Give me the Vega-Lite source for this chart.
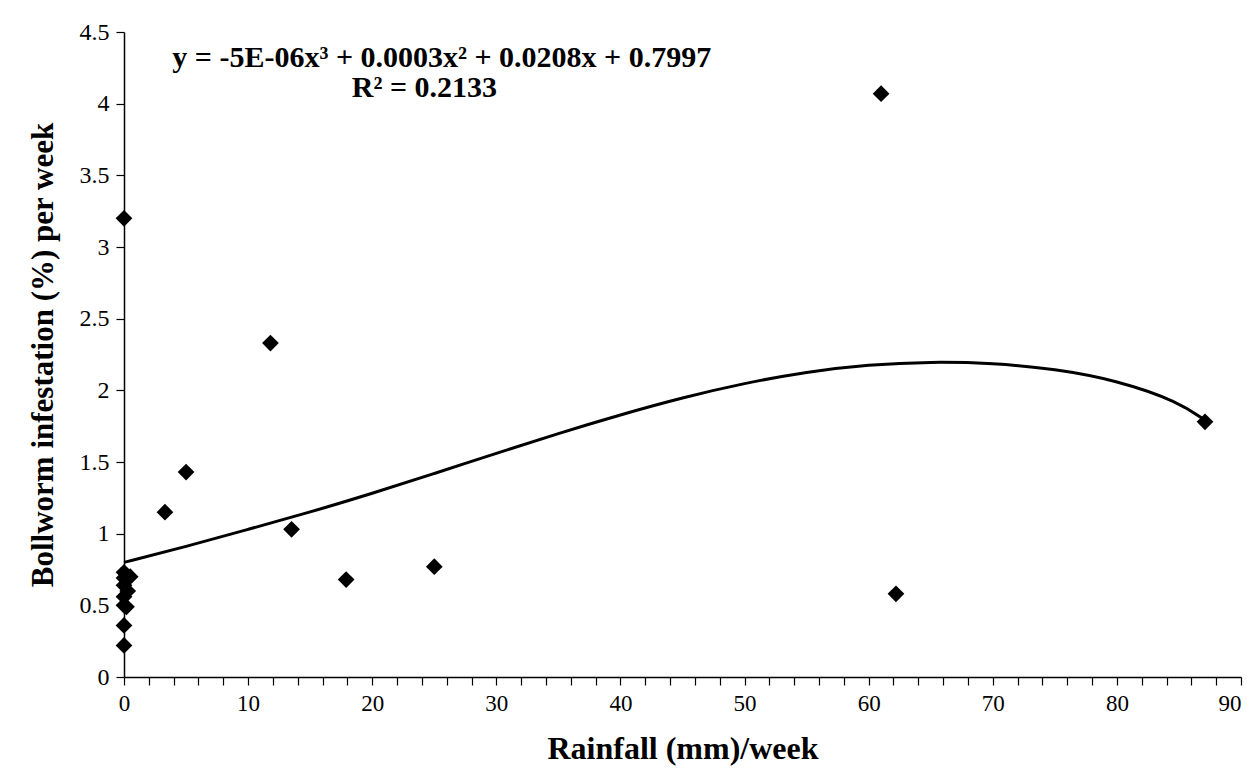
{
  "$schema": "https://vega.github.io/schema/vega-lite/v6.json",
  "width": 1117,
  "height": 645,
  "autosize": "none",
  "padding": {"left": 124, "top": 32, "right": 6, "bottom": 97},
  "background": "white",
  "config": {
    "view": {"stroke": null},
    "font": "Liberation Serif",
    "axis": {"domainColor": "black", "tickColor": "black", "labelColor": "black", "titleColor": "black", "grid": false, "domainWidth": 1.5, "tickWidth": 1.2}
  },
  "datasets": {
    "pts": [
      {"rain": 0, "inf": 3.2},
      {"rain": 0, "inf": 0.73},
      {"rain": 0.5, "inf": 0.7},
      {"rain": 0, "inf": 0.69},
      {"rain": 0, "inf": 0.64},
      {"rain": 0.3, "inf": 0.6},
      {"rain": 0, "inf": 0.56},
      {"rain": 0, "inf": 0.5},
      {"rain": 0.2, "inf": 0.49},
      {"rain": 0, "inf": 0.36},
      {"rain": 0, "inf": 0.22},
      {"rain": 3.3, "inf": 1.15},
      {"rain": 5.0, "inf": 1.43},
      {"rain": 11.8, "inf": 2.33},
      {"rain": 13.5, "inf": 1.03},
      {"rain": 17.9, "inf": 0.68},
      {"rain": 25.0, "inf": 0.77},
      {"rain": 61.0, "inf": 4.07},
      {"rain": 62.2, "inf": 0.58},
      {"rain": 87.1, "inf": 1.78}
    ],
    "trend": [
      {"rain": 0, "inf": 0.80},
      {"rain": 5, "inf": 0.91},
      {"rain": 10, "inf": 1.03},
      {"rain": 15, "inf": 1.15},
      {"rain": 20, "inf": 1.28},
      {"rain": 25, "inf": 1.42},
      {"rain": 30, "inf": 1.56},
      {"rain": 35, "inf": 1.70},
      {"rain": 40, "inf": 1.83},
      {"rain": 45, "inf": 1.95},
      {"rain": 50, "inf": 2.05},
      {"rain": 55, "inf": 2.13},
      {"rain": 60, "inf": 2.18},
      {"rain": 65, "inf": 2.20},
      {"rain": 70, "inf": 2.19},
      {"rain": 75, "inf": 2.15},
      {"rain": 80, "inf": 2.07},
      {"rain": 85, "inf": 1.92},
      {"rain": 87.1, "inf": 1.79}
    ],
    "labels": [
      {"rain": 25.6, "inf": 4.257, "txt": "y = -5E-06x³ + 0.0003x² + 0.0208x + 0.7997"},
      {"rain": 24.2, "inf": 4.047, "txt": "R² = 0.2133"}
    ]
  },
  "layer": [
    {
      "data": {"name": "trend"},
      "mark": {"type": "line", "color": "black", "strokeWidth": 3, "interpolate": "basis"},
      "encoding": {
        "x": {"field": "rain", "type": "quantitative"},
        "y": {"field": "inf", "type": "quantitative"}
      }
    },
    {
      "data": {"name": "pts"},
      "mark": {"type": "point", "shape": "diamond", "filled": true, "color": "black", "opacity": 1, "size": 280},
      "encoding": {
        "x": {
          "field": "rain", "type": "quantitative",
          "scale": {"domain": [0, 90], "nice": false, "zero": false},
          "axis": {
            "title": "Rainfall (mm)/week",
            "titleFont": "Liberation Serif", "titleFontSize": 32, "titleFontWeight": "bold", "titlePadding": 18,
            "values": [0,2,4,6,8,10,12,14,16,18,20,22,24,26,28,30,32,34,36,38,40,42,44,46,48,50,52,54,56,58,60,62,64,66,68,70,72,74,76,78,80,82,84,86,88,90],
            "tickCount": 100,
            "labelExpr": "datum.value % 10 === 0 ? datum.label : ''",
            "labelAlign": {"condition": {"test": "datum.value >= 90", "value": "right"}, "value": "center"},
            "labelFont": "Liberation Serif", "labelFontSize": 23, "labelPadding": 7,
            "tickSize": 8, "labelFlush": false, "labelOverlap": false
          }
        },
        "y": {
          "field": "inf", "type": "quantitative",
          "scale": {"domain": [0, 4.5], "nice": false},
          "axis": {
            "title": "Bollworm infestation (%) per week",
            "titleFont": "Liberation Serif", "titleFontSize": 31, "titleFontWeight": "bold", "titlePadding": 20,
            "values": [0, 0.5, 1, 1.5, 2, 2.5, 3, 3.5, 4, 4.5],
            "tickCount": 20,
            "format": "~g",
            "labelFont": "Liberation Serif", "labelFontSize": 24, "labelPadding": 7,
            "tickSize": 8, "labelFlush": false, "labelOverlap": false
          }
        }
      }
    },
    {
      "data": {"name": "labels"},
      "mark": {"type": "text", "align": "center", "baseline": "alphabetic", "font": "Liberation Serif", "fontWeight": "bold", "fontSize": 30, "color": "black"},
      "encoding": {
        "x": {"field": "rain", "type": "quantitative"},
        "y": {"field": "inf", "type": "quantitative"},
        "text": {"field": "txt"}
      }
    }
  ]
}
